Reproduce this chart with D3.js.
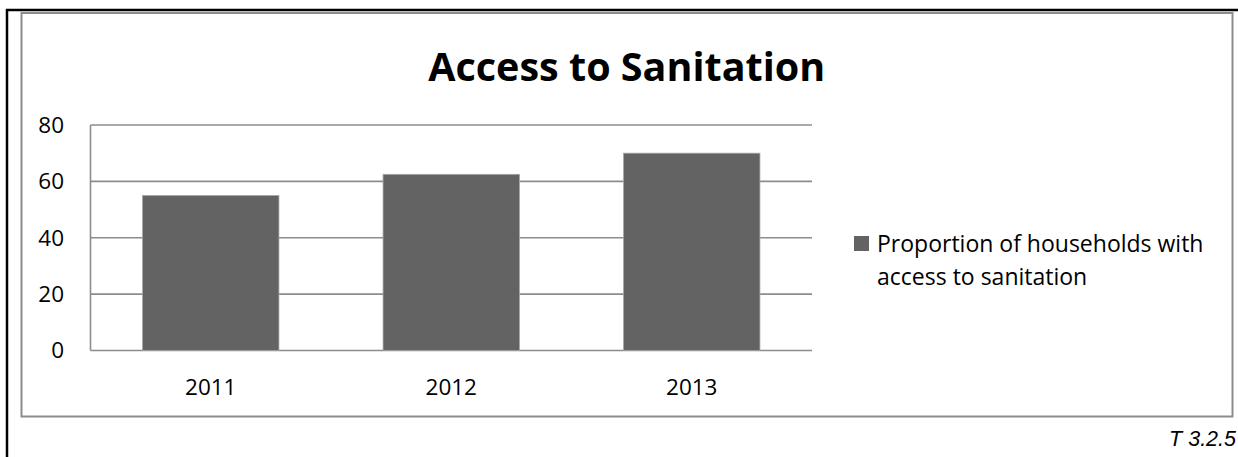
<!DOCTYPE html>
<html>
<head>
<meta charset="utf-8">
<script src="https://cdn.jsdelivr.net/npm/d3@7"></script>
<style>
  html, body { margin: 0; padding: 0; background: #fff; }
  svg { display: block; }
  .tick-label { font-family: "Open Sans", Lato, sans-serif; font-size: 22.5px; fill: #000; }
</style>
</head>
<body>
<div id="chart"></div>
<script>
const years = ['2011', '2012', '2013']
const values = [55, 62.5, 70]
const yTicks = [0, 20, 40, 60, 80]
const seriesName = ['Proportion of households with', 'access to sanitation']
const title = 'Access to Sanitation'
const footnote = 'T 3.2.5'

const W = 1238, H = 457
const plot = { left: 90.5, right: 812, top: 125, bottom: 350.5 }
const barColor = '#636363',
      gridColor = '#8c8c8c'

const svg = d3.select('#chart').append('svg')
  .attr('width', W)
  .attr('height', H)

// outer black frame (left + top only)
svg.append('line')
  .attr('x1', 7).attr('x2', 7).attr('y1', 9).attr('y2', H)
  .attr('stroke', '#000').attr('stroke-width', 2.5)
svg.append('line')
  .attr('x1', 6).attr('x2', W).attr('y1', 10).attr('y2', 10)
  .attr('stroke', '#000').attr('stroke-width', 2.5)

// chart area border
svg.append('rect')
  .attr('x', 21.5).attr('y', 13)
  .attr('width', 1232.5 - 21.5).attr('height', 416.5 - 13)
  .attr('fill', 'none')
  .attr('stroke', gridColor)
  .attr('stroke-width', 2)

const xScale = d3.scaleBand()
  .domain(years)
  .range([plot.left, plot.right])
  .paddingInner(0.433)
  .paddingOuter(0.2165)

const yScale = d3.scaleLinear()
  .domain([0, 80])
  .range([plot.bottom, plot.top])

// gridlines
svg.append('g').classed('grid', true)
  .selectAll('line')
  .data(yTicks).enter()
  .append('line')
  .attr('x1', plot.left).attr('x2', plot.right)
  .attr('y1', d => yScale(d)).attr('y2', d => yScale(d))
  .attr('stroke', gridColor)
  .attr('stroke-width', 1.6)

// y axis line
svg.append('line')
  .attr('x1', plot.left).attr('x2', plot.left)
  .attr('y1', plot.top).attr('y2', plot.bottom)
  .attr('stroke', gridColor)
  .attr('stroke-width', 1.6)

// bars
svg.append('g').classed('bars', true)
  .selectAll('rect')
  .data(values).enter()
  .append('rect')
  .attr('x', (d, i) => xScale(years[i]))
  .attr('y', d => yScale(d))
  .attr('width', xScale.bandwidth())
  .attr('height', d => yScale(0) - yScale(d))
  .attr('fill', barColor)
  .attr('stroke', '#a6a6a6')
  .attr('stroke-width', 0.8)

// y tick labels
svg.append('g').classed('y-labels', true)
  .selectAll('text')
  .data(yTicks).enter()
  .append('text').classed('tick-label', true)
  .attr('x', 64)
  .attr('y', d => yScale(d) + 7.8)
  .attr('text-anchor', 'end')
  .text(d => d)

// x tick labels
svg.append('g').classed('x-labels', true)
  .selectAll('text')
  .data(years).enter()
  .append('text').classed('tick-label', true)
  .attr('x', d => xScale(d) + xScale.bandwidth() / 2)
  .attr('y', 395)
  .attr('text-anchor', 'middle')
  .text(d => d)

// title
svg.append('text')
  .attr('x', 626.7)
  .attr('y', 81)
  .attr('text-anchor', 'middle')
  .attr('font-family', '"Open Sans", Lato, sans-serif')
  .attr('font-weight', 'bold')
  .attr('font-size', 39.5)
  .attr('textLength', 397)
  .attr('lengthAdjust', 'spacingAndGlyphs')
  .text(title)

// legend
const legend = svg.append('g').classed('legend', true)
  .attr('transform', 'translate(854, 236)')
legend.append('rect')
  .attr('width', 15).attr('height', 15)
  .attr('fill', barColor)
legend.selectAll('text')
  .data(seriesName).enter()
  .append('text')
  .attr('x', 23)
  .attr('y', (d, i) => 15.5 + i * 33)
  .attr('font-family', '"Open Sans", Lato, sans-serif')
  .attr('font-size', 23)
  .text(d => d)

// footnote
svg.append('text')
  .attr('x', 1236)
  .attr('y', 446)
  .attr('text-anchor', 'end')
  .attr('font-family', '"Liberation Sans", Arial, sans-serif')
  .attr('font-style', 'italic')
  .attr('font-size', 21.5)
  .text(footnote)
</script>
</body>
</html>
